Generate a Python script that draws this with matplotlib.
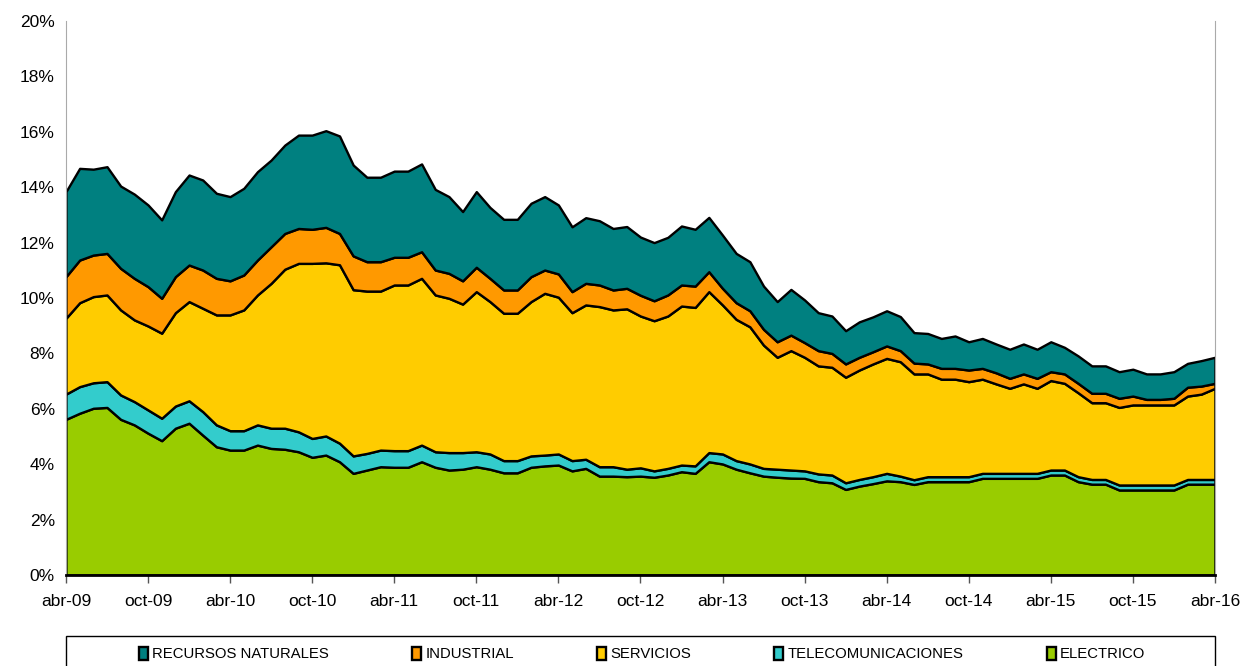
import matplotlib.pyplot as plt
from matplotlib.patches import Rectangle
from matplotlib.ticker import FuncFormatter

plt.rcParams['font.family'] = ['Liberation Sans', 'DejaVu Sans']

# meses abr-09 .. abr-16 (85 puntos mensuales), valores en %
meses = list(range(85))
tick_labels = ["abr-09", "oct-09", "abr-10", "oct-10", "abr-11", "oct-11", "abr-12", "oct-12",
               "abr-13", "oct-13", "abr-14", "oct-14", "abr-15", "oct-15", "abr-16"]

electrico = [5.62, 5.84, 6.02, 6.05, 5.62, 5.42, 5.12, 4.85, 5.30, 5.48, 5.05, 4.63, 4.51, 4.51, 4.69,
             4.57, 4.54, 4.45, 4.25, 4.33, 4.09, 3.67, 3.79, 3.91, 3.89, 3.89, 4.09, 3.89, 3.79, 3.82,
             3.91, 3.82, 3.69, 3.69, 3.89, 3.94, 3.97, 3.76, 3.85, 3.57, 3.57, 3.55, 3.57, 3.53, 3.61,
             3.73, 3.67, 4.09, 4.01, 3.82, 3.69, 3.57, 3.53, 3.50, 3.49, 3.37, 3.33, 3.09, 3.21, 3.30,
             3.40, 3.37, 3.27, 3.37, 3.37, 3.37, 3.37, 3.49, 3.49, 3.49, 3.49, 3.49, 3.61, 3.61, 3.37,
             3.28, 3.28, 3.07, 3.07, 3.07, 3.07, 3.07, 3.28, 3.28, 3.28]
telecom = [0.91, 0.96, 0.92, 0.93, 0.88, 0.84, 0.84, 0.81, 0.80, 0.81, 0.85, 0.79, 0.70, 0.70, 0.73,
           0.73, 0.76, 0.72, 0.68, 0.69, 0.67, 0.63, 0.60, 0.60, 0.60, 0.60, 0.60, 0.56, 0.63, 0.60,
           0.54, 0.55, 0.44, 0.44, 0.41, 0.39, 0.40, 0.37, 0.33, 0.34, 0.34, 0.27, 0.30, 0.23, 0.24,
           0.24, 0.27, 0.33, 0.36, 0.31, 0.32, 0.28, 0.29, 0.29, 0.27, 0.28, 0.28, 0.24, 0.24, 0.25,
           0.27, 0.20, 0.17, 0.18, 0.18, 0.18, 0.18, 0.18, 0.18, 0.18, 0.18, 0.18, 0.18, 0.18, 0.18,
           0.17, 0.17, 0.18, 0.18, 0.18, 0.18, 0.18, 0.17, 0.17, 0.17]
servicios = [2.74, 3.03, 3.11, 3.13, 3.07, 2.95, 3.03, 3.07, 3.37, 3.58, 3.73, 3.97, 4.18, 4.36, 4.69,
             5.23, 5.74, 6.08, 6.32, 6.25, 6.44, 6.00, 5.86, 5.74, 5.98, 5.98, 6.02, 5.66, 5.57, 5.36,
             5.78, 5.50, 5.32, 5.32, 5.57, 5.84, 5.66, 5.34, 5.57, 5.78, 5.66, 5.79, 5.48, 5.42, 5.50,
             5.74, 5.72, 5.81, 5.38, 5.10, 4.95, 4.45, 4.04, 4.31, 4.10, 3.90, 3.89, 3.81, 3.95, 4.07,
             4.15, 4.13, 3.82, 3.71, 3.52, 3.52, 3.43, 3.40, 3.23, 3.07, 3.23, 3.07, 3.23, 3.13, 3.03,
             2.77, 2.77, 2.80, 2.89, 2.89, 2.89, 2.89, 3.01, 3.08, 3.29]
industrial = [1.50, 1.54, 1.50, 1.50, 1.50, 1.50, 1.42, 1.26, 1.30, 1.32, 1.38, 1.32, 1.23, 1.26, 1.26,
              1.32, 1.29, 1.26, 1.23, 1.28, 1.13, 1.22, 1.06, 1.06, 1.00, 1.00, 0.96, 0.90, 0.90, 0.84,
              0.88, 0.84, 0.84, 0.84, 0.90, 0.84, 0.84, 0.76, 0.78, 0.78, 0.72, 0.74, 0.75, 0.72, 0.76,
              0.76, 0.77, 0.72, 0.60, 0.60, 0.58, 0.57, 0.56, 0.56, 0.53, 0.55, 0.50, 0.48, 0.46, 0.44,
              0.45, 0.40, 0.39, 0.36, 0.39, 0.39, 0.42, 0.39, 0.40, 0.36, 0.36, 0.36, 0.32, 0.34, 0.34,
              0.34, 0.34, 0.33, 0.32, 0.20, 0.20, 0.24, 0.32, 0.29, 0.18]
recursos = [3.07, 3.31, 3.10, 3.13, 2.97, 3.04, 2.95, 2.83, 3.07, 3.25, 3.25, 3.07, 3.04, 3.13, 3.19,
            3.13, 3.19, 3.37, 3.40, 3.49, 3.52, 3.28, 3.05, 3.05, 3.11, 3.11, 3.17, 2.91, 2.77, 2.50,
            2.73, 2.56, 2.55, 2.55, 2.65, 2.65, 2.49, 2.34, 2.37, 2.32, 2.22, 2.23, 2.10, 2.10, 2.08,
            2.13, 2.05, 1.96, 1.92, 1.78, 1.77, 1.56, 1.45, 1.65, 1.54, 1.37, 1.35, 1.20, 1.28, 1.26,
            1.27, 1.23, 1.10, 1.10, 1.08, 1.17, 1.02, 1.08, 1.04, 1.05, 1.08, 1.05, 1.08, 0.96, 0.99,
            0.99, 0.99, 0.96, 0.97, 0.92, 0.92, 0.96, 0.86, 0.92, 0.94]

nombres = ["ELECTRICO", "TELECOMUNICACIONES", "SERVICIOS", "INDUSTRIAL", "RECURSOS NATURALES"]
colores = ["#99CC00", "#33CCCC", "#FFCC00", "#FF9900", "#008080"]

fig = plt.figure(figsize=(12.42, 6.66), dpi=100)
ax = fig.add_axes([0.0531, 0.1366, 0.9251, 0.8319])

polys = ax.stackplot(meses, electrico, telecom, servicios, industrial, recursos,
                     colors=colores, labels=nombres, edgecolor="black", linewidth=1.7)

ax.set_xlim(0, 84)
ax.set_ylim(0, 20)
ax.set_yticks(range(0, 21, 2))
ax.yaxis.set_major_formatter(FuncFormatter(lambda v, p: "%d%%" % v))
ax.set_xticks(range(0, 85, 6))
ax.set_xticklabels(tick_labels)
ax.tick_params(axis="y", length=0, labelsize=12.5, pad=8)
ax.tick_params(axis="x", length=6, width=1, color="#555555", labelsize=12.5, pad=8)

ax.spines["top"].set_visible(False)
ax.spines["left"].set_color("#aaaaaa")
ax.spines["right"].set_color("#aaaaaa")
ax.spines["bottom"].set_linewidth(2)
ax.spines["bottom"].set_color("black")

# caja de la leyenda
fig.patches.append(Rectangle((0.0531, -0.02), 0.9251, 0.065, transform=fig.transFigure,
                             facecolor="white", edgecolor="black", linewidth=1))

handles = polys[::-1]
labels = nombres[::-1]
fig.legend(handles, labels, loc="center", bbox_to_anchor=(0.517, 0.018), ncol=5,
           frameon=False, fontsize=10.7, handlelength=0.6, handleheight=1.0,
           handletextpad=0.3, columnspacing=5.6)

fig.savefig("out.png", dpi=100)
